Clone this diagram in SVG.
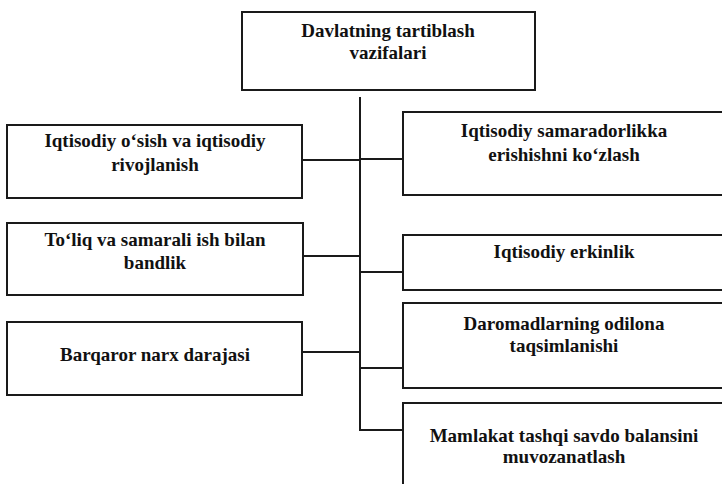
<svg xmlns="http://www.w3.org/2000/svg" width="722" height="484" viewBox="0 0 722 484">
<style>
.box{fill:#fff;stroke:#1a1a1a;stroke-width:2}
.t{font-family:"Liberation Serif","Times New Roman",serif;font-size:19px;font-weight:bold;fill:#111;text-anchor:middle}
.h{font-size:19px;font-weight:900}
.c{fill:none;stroke:#1a1a1a;stroke-width:2}
</style>
<rect width="722" height="484" fill="#fff"/>
<g id="top">
<rect class="box" x="242" y="12" width="293" height="78"/>
<text class="t h" x="388" y="37">Davlatning tartiblash</text>
<text class="t h" x="388" y="59">vazifalari</text>
</g>
<g id="l1">
<rect class="box" x="7" y="125" width="295" height="73"/>
<text class="t" x="155" y="147">Iqtisodiy o‘sish va iqtisodiy</text>
<text class="t" x="155" y="171">rivojlanish</text>
</g>
<g id="l2">
<rect class="box" x="7" y="223" width="296" height="72"/>
<text class="t" x="155" y="246">To‘liq va samarali ish bilan</text>
<text class="t" x="155" y="269">bandlik</text>
</g>
<g id="l3">
<rect class="box" x="7" y="322" width="295" height="73"/>
<text class="t" x="155" y="361">Barqaror narx darajasi</text>
</g>
<g id="r1">
<rect class="box" x="403" y="112" width="330" height="83"/>
<text class="t" x="564" y="137">Iqtisodiy samaradorlikka</text>
<text class="t" x="564" y="161">erishishni ko‘zlash</text>
</g>
<g id="r2">
<rect class="box" x="403" y="235" width="330" height="55"/>
<text class="t" x="564" y="258">Iqtisodiy erkinlik</text>
</g>
<g id="r3">
<rect class="box" x="403" y="303" width="330" height="85"/>
<text class="t" x="564" y="330">Daromadlarning odilona</text>
<text class="t" x="564" y="352">taqsimlanishi</text>
</g>
<g id="r4">
<rect class="box" x="403" y="403" width="330" height="100"/>
<text class="t" x="564" y="442">Mamlakat tashqi savdo balansini</text>
<text class="t" x="564" y="463">muvozanatlash</text>
</g>
<g id="connectors">
<path class="c" d="M360 97V431"/>
<path class="c" d="M302 160H360M303 256H360M302 352H360"/>
<path class="c" d="M360 159H403M360 272H403M360 368H403M360 430H403"/>
</g>
</svg>
